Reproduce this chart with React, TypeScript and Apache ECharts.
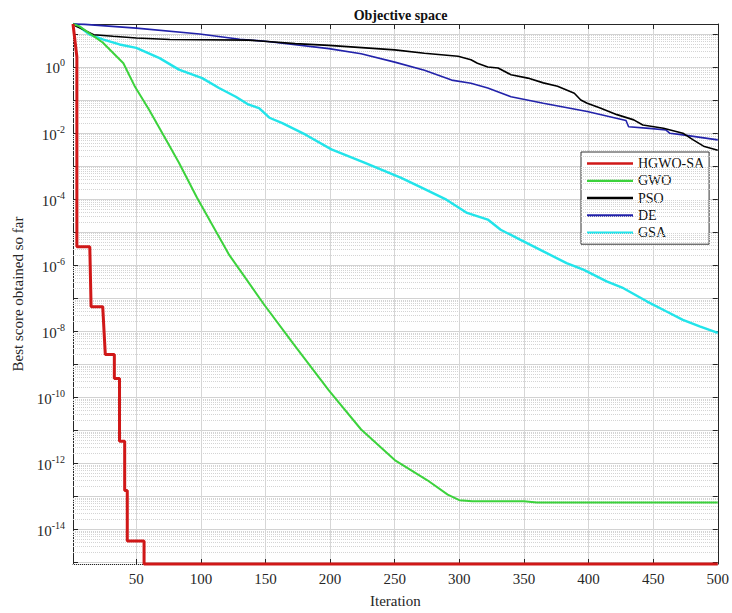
import { useEffect, useRef } from 'react';
import * as echarts from 'echarts';

// ---- data (iteration, best score) ----
const seriesNames = ['HGWO-SA', 'GWO', 'PSO', 'DE', 'GSA'];
const seriesColors = ['#d01818', '#3cd23c', '#000000', '#2222aa', '#22e4ea'];
const seriesWidths = [3, 2, 1.6, 1.6, 2.4];

const hgwoSa: [number, number][] = [
  [1, 20], [4, 2.0], [4, 3.6e-6], [14, 3.6e-6], [15, 5.5e-8], [24, 5.5e-8], [26, 1.95e-9], [33, 1.95e-9],
  [33, 3.7e-10], [37, 3.7e-10], [37, 4.6e-12], [41, 4.6e-12], [41, 1.5e-13], [43, 1.5e-13], [43, 4.4e-15],
  [56, 4.4e-15], [56, 8.88e-16], [500, 8.88e-16],
];
const gwo: [number, number][] = [
  [1, 20], [6, 17], [24, 5.5], [40, 1.3], [49, 0.25], [60, 0.05], [73, 6.2e-3], [83, 1.25e-3], [97, 1.1e-4],
  [122, 2.0e-6], [149, 6.3e-8], [171, 4.4e-9], [199, 1.6e-10], [224, 1.05e-11], [250, 1.25e-12], [275, 3.1e-13],
  [291, 1.12e-13], [300, 7.6e-14], [310, 7.0e-14], [350, 7.0e-14], [360, 6.5e-14], [500, 6.5e-14],
];
const pso: [number, number][] = [
  [1, 20], [3, 17.5], [9, 13.5], [17, 9.5], [32, 8.5], [50, 7.5], [76, 6.8], [137, 6.5], [173, 5.1], [199, 4.5],
  [250, 3.3], [273, 2.6], [299, 2.1], [309, 1.65], [314, 1.3], [322, 1.0], [330, 0.93], [340, 0.58], [353, 0.46],
  [365, 0.33], [376, 0.26], [389, 0.16], [394, 0.1], [399, 0.08], [409, 0.057], [422, 0.036], [435, 0.025],
  [442, 0.0175], [458, 0.014], [473, 0.0099], [481, 0.0062], [489, 0.004], [500, 0.003],
];
const de: [number, number][] = [
  [1, 20], [10, 19.5], [50, 15], [99, 10], [130, 6.9], [150, 6.0], [199, 3.6], [224, 2.5], [250, 1.4], [273, 0.79],
  [294, 0.4], [309, 0.32], [322, 0.23], [340, 0.125], [365, 0.08], [399, 0.045], [429, 0.024], [431, 0.0155],
  [447, 0.0138], [460, 0.0123], [463, 0.0098], [473, 0.0088], [500, 0.0062],
];
const gsa: [number, number][] = [
  [1, 20], [4, 19], [14, 9.5], [24, 6.8], [37, 4.8], [50, 3.8], [68, 1.85], [83, 0.83], [101, 0.46], [114, 0.23],
  [127, 0.125], [137, 0.072], [145, 0.057], [153, 0.029], [163, 0.02], [181, 0.0089], [201, 0.0032], [227, 1.25e-3],
  [255, 4.4e-4], [270, 2.3e-4], [290, 9.6e-5], [306, 3.8e-5], [322, 2.4e-5], [332, 1.18e-5], [347, 5.9e-6],
  [365, 2.6e-6], [383, 1.15e-6], [396, 7.3e-7], [414, 3.2e-7], [427, 2.0e-7], [445, 8.0e-8], [460, 4.0e-8],
  [473, 2.2e-8], [486, 1.4e-8], [500, 8.8e-9],
];
const allSeries = [hgwoSa, gwo, pso, de, gsa];

const X_MIN = 1;
const X_MAX = 500;
const Y_MIN_VALUE = 8.88e-16;
const Y_MAX_VALUE = 20;

const FONT = '"Liberation Serif", "Times New Roman", serif';

export default function App() {
  const ref = useRef<HTMLDivElement>(null);
  useEffect(() => {
    if (!ref.current) return;
    const chart = echarts.init(ref.current, null, { renderer: 'svg' });
    const yMin = Math.log10(Y_MIN_VALUE);
    const yMax = Math.log10(Y_MAX_VALUE);

    const minorLines: { yAxis: number }[] = [];
    for (let n = -16; n <= 1; n++) {
      for (let k = 2; k <= 9; k++) {
        const v = n + Math.log10(k);
        if (v > yMin && v < yMax) minorLines.push({ yAxis: v });
      }
    }

    const isInt = (v: number) => Math.abs(v - Math.round(v)) < 1e-6;
    const yLabel = (v: number) => {
      if (!isInt(v)) return '';
      const n = Math.round(v);
      if (n % 2 !== 0) return '';
      return '{b|10}{s|' + n + '}';
    };

    const axisColor = '#262626';
    const option: any = {
      animation: false,
      backgroundColor: '#ffffff',
      title: {
        text: 'Objective space',
        left: 395.5,
        top: 3,
        textAlign: 'center',
        textStyle: { fontFamily: FONT, fontSize: 14, fontWeight: 'bold', color: '#111' },
      },
      grid: { left: 73, right: 14, top: 24, bottom: 48, show: false },
      legend: {
        data: seriesNames.map((n) => ({ name: n, icon: 'rect' })),
        orient: 'vertical',
        left: 581,
        top: 152,
        backgroundColor: '#ffffff',
        borderColor: '#333',
        borderWidth: 1,
        borderRadius: 0,
        padding: [4, 5, 4, 6],
        itemWidth: 46,
        itemHeight: 2.5,
        itemGap: 2.3,
        textStyle: { fontFamily: FONT, fontSize: 14, color: '#111', lineHeight: 15 },
      },
      xAxis: [
        {
          type: 'value',
          min: X_MIN,
          max: X_MAX,
          splitNumber: 10,
          name: 'Iteration',
          nameLocation: 'middle',
          nameGap: 29,
          nameTextStyle: { fontFamily: FONT, fontSize: 15, color: axisColor },
          axisLine: { show: true, onZero: false, lineStyle: { color: axisColor, width: 1 } },
          axisTick: { show: true, inside: true, length: 5, lineStyle: { color: axisColor } },
          axisLabel: {
            fontFamily: FONT,
            fontSize: 15,
            color: axisColor,
            margin: 7,
            formatter: (v: number) => (v === X_MIN ? '' : String(v)),
          },
          splitLine: { show: true, lineStyle: { color: '#d6d6d6', width: 1 } },
        },
        {
          type: 'value',
          position: 'top',
          min: X_MIN,
          max: X_MAX,
          splitNumber: 10,
          axisLine: { show: true, onZero: false, lineStyle: { color: axisColor, width: 1 } },
          axisTick: { show: true, inside: true, length: 5, lineStyle: { color: axisColor } },
          axisLabel: { show: false },
          splitLine: { show: false },
        },
      ],
      yAxis: [
        {
          type: 'value',
          min: yMin,
          max: yMax,
          splitNumber: 16,
          name: 'Best score obtained so far',
          nameLocation: 'middle',
          nameGap: 43,
          nameTextStyle: { fontFamily: FONT, fontSize: 15, color: axisColor },
          axisLine: { show: true, onZero: false, lineStyle: { color: axisColor, width: 1 } },
          axisTick: { show: true, inside: true, length: 5, lineStyle: { color: axisColor } },
          axisLabel: {
            margin: 8,
            showMinLabel: true,
            showMaxLabel: true,
            formatter: yLabel,
            rich: {
              b: { fontFamily: FONT, fontSize: 15, color: axisColor, verticalAlign: 'bottom', padding: [3, 0, 0, 0] },
              s: { fontFamily: FONT, fontSize: 10, color: axisColor, verticalAlign: 'top' },
            },
          },
          splitLine: { show: true, lineStyle: { color: '#d2d2d2', width: 1 } },
        },
        {
          type: 'value',
          position: 'right',
          min: yMin,
          max: yMax,
          splitNumber: 16,
          axisLine: { show: true, onZero: false, lineStyle: { color: axisColor, width: 1 } },
          axisTick: { show: true, inside: true, length: 5, lineStyle: { color: axisColor } },
          axisLabel: { show: false },
          splitLine: { show: false },
        },
      ],
      series: [
        {
          name: '__grid',
          type: 'line',
          data: [],
          silent: true,
          z: 1,
          markLine: {
            silent: true,
            symbol: ['none', 'none'],
            label: { show: false },
            emphasis: { disabled: true },
            lineStyle: { color: '#d4d4d4', width: 1, type: [1, 1] },
            data: minorLines,
          },
        },
        ...allSeries.map((pts, i) => ({
          name: seriesNames[i],
          type: 'line',
          data: pts.map(([x, v]) => [x, Math.log10(v)]),
          symbol: 'none',
          showSymbol: false,
          clip: false,
          z: 10 - i,
          lineStyle: { color: seriesColors[i], width: seriesWidths[i] },
          itemStyle: { color: seriesColors[i] },
        })),
      ],
    };
    chart.setOption(option);
    return () => chart.dispose();
  }, []);
  return <div ref={ref} style={{ position: 'fixed', left: 0, top: 0, width: 732, height: 613 }} />;
}
